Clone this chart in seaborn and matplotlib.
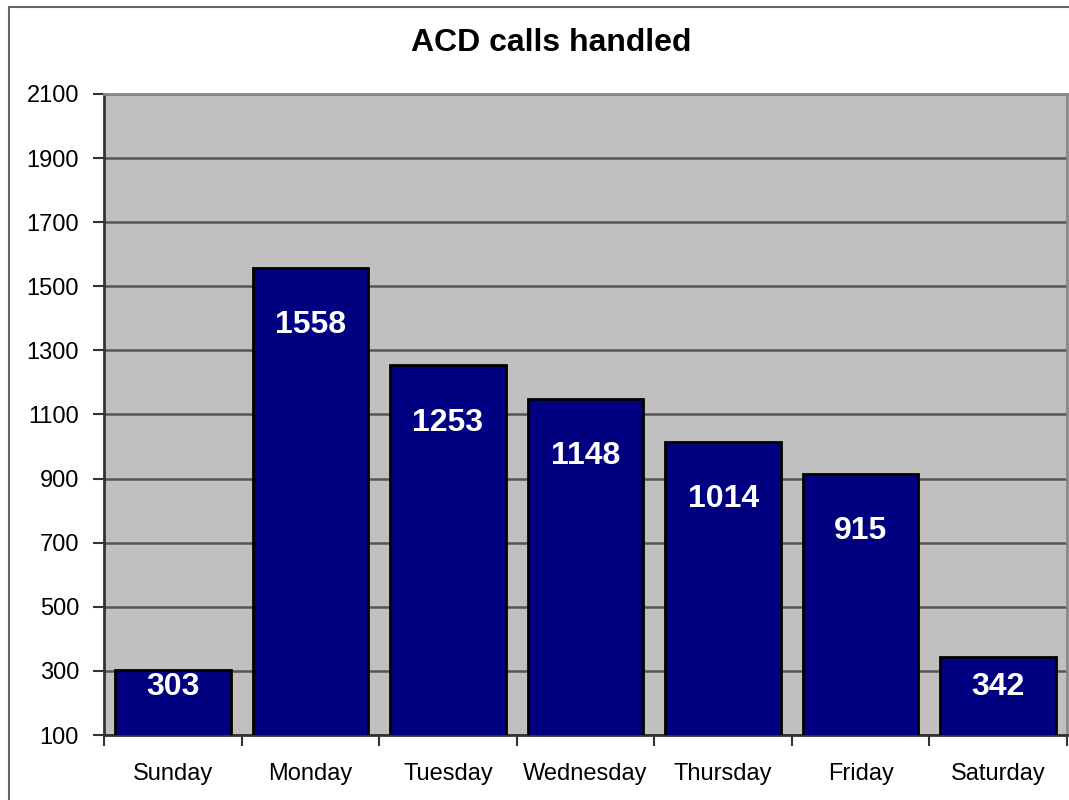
import matplotlib
matplotlib.use("Agg")
import matplotlib.pyplot as plt
import seaborn as sns
import numpy as np
from matplotlib.patches import Rectangle

days = ["Sunday", "Monday", "Tuesday", "Wednesday", "Thursday", "Friday", "Saturday"]
calls = [303, 1558, 1253, 1148, 1014, 915, 342]
yticks = list(range(100, 2101, 200))

plt.rcParams["font.family"] = ["Liberation Sans", "DejaVu Sans"]

fig = plt.figure(figsize=(10.69, 8), dpi=100)
ax = fig.add_axes([104 / 1069, 65 / 800, 963 / 1069, 641 / 800])
ax.set_facecolor("#c0c0c0")

sns.barplot(x=days, y=calls, color="#000080", saturation=1, edgecolor="black",
            linewidth=2, width=0.84, ax=ax, zorder=3)

ax.set_ylim(100, 2100)
ax.set_xlim(-0.5, len(days) - 0.5)
ax.set_yticks(yticks)
ax.set_yticklabels([str(t) for t in yticks], fontsize=17)
ax.grid(axis="y", color="#555555", linewidth=1.8, zorder=0)
ax.set_axisbelow(True)
ax.set_xlabel("")
ax.set_ylabel("")

# category boundaries get the tick marks, labels stay centred
ax.tick_params(axis="x", which="major", length=0, labelsize=17, pad=20)
ax.set_xticks(np.arange(-0.5, len(days)), minor=True)
ax.tick_params(axis="x", which="minor", length=8, width=1.5, color="#333333")
ax.tick_params(axis="y", length=8, width=1.5, color="#333333", pad=10)

for side in ["left", "bottom"]:
    ax.spines[side].set_color("#333333")
    ax.spines[side].set_linewidth(2)
for side in ["top", "right"]:
    ax.spines[side].set_color("#888888")
    ax.spines[side].set_linewidth(2)

# value labels inside the bars
for i, v in enumerate(calls):
    ypos = max(v - 178, 250)
    ax.text(i, ypos, str(v), color="white", fontsize=23, fontweight="bold",
            ha="center", va="center", zorder=5)

fig.text(0.5 + 17 / 1069, 1 - 43 / 800, "ACD calls handled", ha="center", va="center",
         fontsize=23, fontweight="bold")

fig.patches.append(Rectangle((9 / 1069, -0.1), 2, 1.1 - 7 / 800, fill=False,
                             edgecolor="#666666", linewidth=1.5,
                             transform=fig.transFigure, figure=fig))

fig.savefig("out.png", dpi=100)
